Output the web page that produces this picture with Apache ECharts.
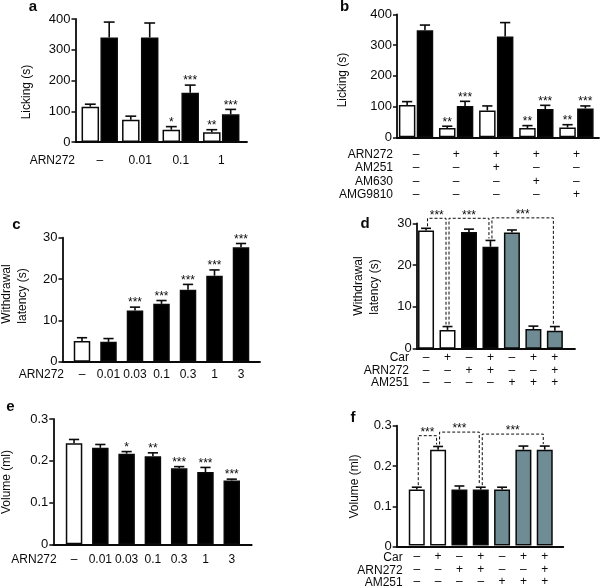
<!DOCTYPE html>
<html><head><meta charset="utf-8">
<script src="https://cdn.jsdelivr.net/npm/echarts@6/dist/echarts.min.js"></script>
<style>html,body{margin:0;padding:0;background:#fff}#c{width:600px;height:588px}</style>
</head><body><div id="c"></div>
<script>
// ---------- DATA ----------
// Panel a: licking time, two phases, ARN272 doses
const aDoses = ['–', '0.01', '0.1', '1'];
const aPhase1 = [115, 72, 40, 32];
const aPhase1Err = [8, 12, 10, 8];
const aPhase1Sig = ['', '', '*', '**'];
const aPhase2 = [340, 340, 160, 90];
const aPhase2Err = [50, 47, 25, 16];
const aPhase2Sig = ['', '', '***', '***'];
const aTicks = [0, 100, 200, 300, 400];

// Panel b
const bARN272 = ['–', '+', '+', '+', '+'];
const bAM251 = ['–', '–', '+', '–', '–'];
const bAM630 = ['–', '–', '–', '+', '–'];
const bAMG9810 = ['–', '–', '–', '–', '+'];
const bPhase1 = [105, 30, 87, 30, 32];
const bPhase1Err = [11, 6, 15, 8, 9];
const bPhase1Sig = ['', '**', '', '**', '**'];
const bPhase2 = [348, 102, 328, 92, 94];
const bPhase2Err = [17, 15, 45, 12, 8];
const bPhase2Sig = ['', '***', '', '***', '***'];
const bTicks = [0, 100, 200, 300, 400];

// Panel c
const cDoses = ['–', '0.01', '0.03', '0.1', '0.3', '1', '3'];
const cGroup = ['vehicle', 'ARN272', 'ARN272', 'ARN272', 'ARN272', 'ARN272', 'ARN272'];
const cLatency = [5.0, 4.8, 12.4, 14.0, 17.4, 20.8, 27.7];
const cErr = [0.8, 0.8, 0.8, 0.8, 1.3, 1.4, 0.9];
const cSig = ['', '', '***', '***', '***', '***', '***'];
const cTicks = [0, 10, 20, 30];

// Panel d
const dCar = ['–', '+', '–', '+', '–', '+', '+'];
const dARN272 = ['–', '–', '+', '+', '–', '–', '+'];
const dAM251 = ['–', '–', '–', '–', '+', '+', '+'];
const dGroup = ['vehicle', 'vehicle', 'ARN272', 'ARN272', 'AM251', 'AM251', 'AM251'];
const dLatency = [28.3, 4.5, 27.9, 24.4, 27.8, 4.7, 4.3];
const dErr = [0.5, 0.8, 0.7, 1.5, 0.6, 0.7, 1.0];
const dBrackets = [[0, 1, 31.2], [1, 3, 31.2], [3, 6, 31.3]];
const dBracketSig = ['***', '***', '***'];
const dTicks = [0, 10, 20, 30];

// Panel e
const eDoses = ['–', '0.01', '0.03', '0.1', '0.3', '1', '3'];
const eGroup = ['vehicle', 'ARN272', 'ARN272', 'ARN272', 'ARN272', 'ARN272', 'ARN272'];
const eVolume = [0.242, 0.231, 0.217, 0.211, 0.182, 0.173, 0.153];
const eErr = [0.009, 0.008, 0.005, 0.008, 0.004, 0.011, 0.003];
const eSig = ['', '', '*', '**', '***', '***', '***'];
const eTicks = [0, 0.1, 0.2, 0.3];

// Panel f
const fCar = ['–', '+', '–', '+', '–', '+', '+'];
const fARN272 = ['–', '–', '+', '+', '–', '–', '+'];
const fAM251 = ['–', '–', '–', '–', '+', '+', '+'];
const fGroup = ['vehicle', 'vehicle', 'ARN272', 'ARN272', 'AM251', 'AM251', 'AM251'];
const fVolume = [0.14, 0.24, 0.14, 0.14, 0.14, 0.24, 0.24];
const fErr = [0.006, 0.008, 0.009, 0.006, 0.006, 0.009, 0.009];
const fBrackets = [[0, 1, 0.275], [1, 3, 0.284], [3, 6, 0.279]];
const fBracketSig = ['***', '***', '***'];
const fTicks = [0, 0.1, 0.2, 0.3];

// ---------- STYLE / LAYOUT ----------
const FONT = '"Liberation Sans", Arial, Helvetica, sans-serif';
const INK = '#0a0a0a';
const GROUP_FILL = { vehicle: '#ffffff', ARN272: '#000000', AM251: '#6f8c95' };

const grids = [], xAxes = [], yAxes = [], series = [], graphics = [];

function txt(text, x, y, opts) {
  opts = opts || {};
  const align = opts.align || 'center';
  const va = opts.va || 'middle';
  return {
    type: 'text', x: x, y: y, rotation: opts.rot || 0, silent: true, z: 100,
    style: {
      text: text, fill: INK, font: opts.font || ('12px ' + FONT),
      align: align, verticalAlign: va, textAlign: align, textVerticalAlign: va
    }
  };
}

function joinRows(rows) {
  return rows[0].map(function (_, i) { return rows.map(function (r) { return r[i]; }).join('\n'); });
}

function addPanel(p) {
  const gi = grids.length;
  const bi = gi + 1;
  const t = p.ticks;
  const yMin = t[0], yMax = t[t.length - 1], yInt = +(t[1] - t[0]).toFixed(6);
  const axisY = p.frame.top + p.frame.height;

  grids.push({ left: p.frame.left, top: p.frame.top, width: p.frame.width, height: p.frame.height, containLabel: false });
  xAxes.push({ gridIndex: gi, type: 'value', min: 0, max: 1, axisLine: { show: true, onZero: false, lineStyle: { color: INK, width: 1.8 } },
    axisTick: { show: false }, axisLabel: { show: false }, splitLine: { show: false } });
  yAxes.push({ gridIndex: gi, type: 'value', min: yMin, max: yMax, interval: yInt,
    axisLine: { show: true, lineStyle: { color: INK, width: 1.8 } },
    axisTick: { show: true, length: 4, lineStyle: { color: INK, width: 1.5 } },
    axisLabel: { show: true, margin: 5, fontSize: 13, fontFamily: FONT, color: INK },
    splitLine: { show: false } });

  grids.push({ left: p.bars.left, top: p.frame.top, width: p.bars.width, height: p.frame.height, containLabel: false });
  xAxes.push({ gridIndex: bi, type: 'category', data: p.cats, axisLine: { show: false }, axisTick: { show: false }, splitLine: { show: false },
    axisLabel: { show: true, interval: 0, hideOverlap: false, margin: p.labelMargin, fontSize: 12, lineHeight: p.lineHeight, fontFamily: FONT, color: INK } });
  yAxes.push({ gridIndex: bi, type: 'value', min: yMin, max: yMax, show: false });

  const n = p.groups.length;
  const off = n === 2 ? p.barW * (1 + p.gap) / 2 : 0;
  const cap = p.barW * 0.62;
  p.groups.forEach(function (g, k) {
    series.push({
      type: 'bar', xAxisIndex: bi, yAxisIndex: bi, barWidth: p.barW, barGap: (p.gap * 100) + '%', silent: true, z: 2,
      itemStyle: { borderColor: INK, borderWidth: 1.5 },
      data: g.values.map(function (v, i) { return { value: v, itemStyle: { color: GROUP_FILL[g.groups[i]] } }; })
    });
    const o = n === 2 ? (k === 0 ? -off : off) : 0;
    series.push({
      type: 'custom', xAxisIndex: bi, yAxisIndex: bi, clip: false, silent: true, z: 5,
      data: g.values.map(function (v, i) { return [i, v, g.errs[i]]; }),
      encode: { x: 0, y: 1 },
      renderItem: function (params, api) {
        const i = params.dataIndex;
        const b = api.coord([i, g.values[i]]);
        const tp = api.coord([i, g.values[i] + g.errs[i]]);
        const x = b[0] + o;
        const ch = [
          { type: 'line', shape: { x1: x, y1: b[1], x2: x, y2: tp[1] }, style: { stroke: INK, lineWidth: 1.6 } },
          { type: 'line', shape: { x1: x - cap / 2, y1: tp[1], x2: x + cap / 2, y2: tp[1] }, style: { stroke: INK, lineWidth: 1.6 } }
        ];
        if (g.sigs && g.sigs[i]) {
          ch.push({ type: 'text', style: { text: g.sigs[i], x: x, y: tp[1] - 4, fill: INK, font: '12px ' + FONT,
            align: 'center', verticalAlign: 'middle', textAlign: 'center', textVerticalAlign: 'middle' } });
        }
        return { type: 'group', children: ch };
      }
    });
  });

  if (p.brackets) {
    const g = p.groups[0];
    series.push({
      type: 'custom', xAxisIndex: bi, yAxisIndex: bi, clip: false, silent: true, z: 6,
      data: p.brackets.map(function (b) { return [b[0], b[2]]; }),
      encode: { x: 0, y: 1 },
      renderItem: function (params, api) {
        const br = p.brackets[params.dataIndex];
        const i = br[0], j = br[1];
        const yTop = api.coord([i, br[2]])[1];
        const xi = api.coord([i, 0])[0] + 1.5;
        const xj = api.coord([j, 0])[0] - 1.5;
        const yi = api.coord([i, g.values[i] + g.errs[i]])[1] - 2;
        const yj = api.coord([j, g.values[j] + g.errs[j]])[1] - 2;
        return { type: 'group', children: [
          { type: 'polyline', shape: { points: [[xi, yi], [xi, yTop], [xj, yTop], [xj, yj]] },
            style: { stroke: INK, lineWidth: 1, lineDash: [3, 2], fill: null } },
          { type: 'text', style: { text: p.bracketSig[params.dataIndex], x: (xi + xj) / 2, y: yTop - 3, fill: INK, font: '12px ' + FONT,
            align: 'center', verticalAlign: 'middle', textAlign: 'center', textVerticalAlign: 'middle' } }
        ] };
      }
    });
  }

  graphics.push(txt(p.letter, p.letterPos[0], p.letterPos[1], { font: 'bold 15px ' + FONT }));
  p.yTitle.forEach(function (tt, k) {
    graphics.push(txt(tt, p.yTitlePos[k][0], p.yTitlePos[k][1], { rot: Math.PI / 2 }));
  });
  p.rowNames.forEach(function (nm, k) {
    graphics.push(txt(nm, p.rowRight, axisY + p.labelMargin + p.lineHeight * (k + 0.5), { align: 'right' }));
  });
}

addPanel({
  letter: 'a', letterPos: [33, 7],
  frame: { left: 75.5, top: 19, width: 171.5, height: 123 }, bars: { left: 79.5, width: 162 },
  ticks: aTicks, cats: aDoses, labelMargin: 12.5, lineHeight: 13, barW: 17.5, gap: 0.08,
  groups: [
    { values: aPhase1, errs: aPhase1Err, sigs: aPhase1Sig, groups: aPhase1.map(function () { return 'vehicle'; }) },
    { values: aPhase2, errs: aPhase2Err, sigs: aPhase2Sig, groups: aPhase2.map(function () { return 'ARN272'; }) }
  ],
  yTitle: ['Licking (s)'], yTitlePos: [[27, 92]],
  rowNames: ['ARN272'], rowRight: 75
});

addPanel({
  letter: 'b', letterPos: [344.5, 7],
  frame: { left: 397, top: 14.3, width: 202, height: 123 }, bars: { left: 396, width: 200.5 },
  ticks: bTicks, cats: joinRows([bARN272, bAM251, bAM630, bAMG9810]), labelMargin: 11, lineHeight: 13.2, barW: 16.5, gap: 0.08,
  groups: [
    { values: bPhase1, errs: bPhase1Err, sigs: bPhase1Sig, groups: bPhase1.map(function () { return 'vehicle'; }) },
    { values: bPhase2, errs: bPhase2Err, sigs: bPhase2Sig, groups: bPhase2.map(function () { return 'ARN272'; }) }
  ],
  yTitle: ['Licking (s)'], yTitlePos: [[343, 80]],
  rowNames: ['ARN272', 'AM251', 'AM630', 'AMG9810'], rowRight: 393
});

addPanel({
  letter: 'c', letterPos: [16.5, 225],
  frame: { left: 62.5, top: 237.7, width: 197.5, height: 124 }, bars: { left: 68.75, width: 185.5 },
  ticks: cTicks, cats: cDoses, labelMargin: 6, lineHeight: 13, barW: 16.5, gap: 0,
  groups: [{ values: cLatency, errs: cErr, sigs: cSig, groups: cGroup }],
  yTitle: ['Withdrawal', 'latency (s)'], yTitlePos: [[7, 294], [23, 296]],
  rowNames: ['ARN272'], rowRight: 64
});

addPanel({
  letter: 'd', letterPos: [365, 223.5],
  frame: { left: 416.7, top: 223.3, width: 158.3, height: 125.4 }, bars: { left: 415.3, width: 150.3 },
  ticks: dTicks, cats: joinRows([dCar, dARN272, dAM251]), labelMargin: 3, lineHeight: 12.5, barW: 16, gap: 0,
  groups: [{ values: dLatency, errs: dErr, sigs: null, groups: dGroup }],
  brackets: dBrackets, bracketSig: dBracketSig,
  yTitle: ['Withdrawal', 'latency (s)'], yTitlePos: [[358.5, 286], [375, 287]],
  rowNames: ['Car', 'ARN272', 'AM251'], rowRight: 409
});

addPanel({
  letter: 'e', letterPos: [10.5, 406.5],
  frame: { left: 53.3, top: 419, width: 198.4, height: 125.3 }, bars: { left: 60.9, width: 184 },
  ticks: eTicks, cats: eDoses, labelMargin: 9, lineHeight: 13, barW: 16.5, gap: 0,
  groups: [{ values: eVolume, errs: eErr, sigs: eSig, groups: eGroup }],
  yTitle: ['Volume (ml)'], yTitlePos: [[7, 482]],
  rowNames: ['ARN272'], rowRight: 56.7
});

addPanel({
  letter: 'f', letterPos: [353, 417.5],
  frame: { left: 396.7, top: 425.7, width: 166.6, height: 121 }, bars: { left: 406.1, width: 149.3 },
  ticks: fTicks, cats: joinRows([fCar, fARN272, fAM251]), labelMargin: 5, lineHeight: 12.5, barW: 16, gap: 0,
  groups: [{ values: fVolume, errs: fErr, sigs: null, groups: fGroup }],
  brackets: fBrackets, bracketSig: fBracketSig,
  yTitle: ['Volume (ml)'], yTitlePos: [[355, 486.5]],
  rowNames: ['Car', 'ARN272', 'AM251'], rowRight: 402.7
});

const chart = echarts.init(document.getElementById('c'), null, { renderer: 'canvas' });
chart.setOption({
  animation: false,
  backgroundColor: '#ffffff',
  grid: grids, xAxis: xAxes, yAxis: yAxes, series: series, graphic: graphics
});
</script>
</body></html>
